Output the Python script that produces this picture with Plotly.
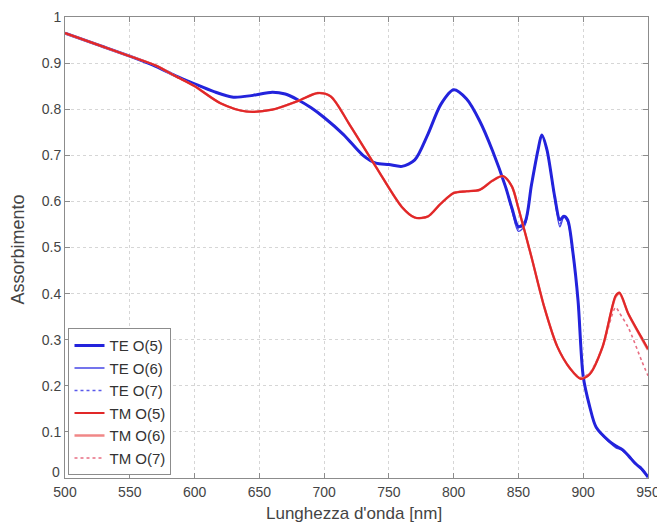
import plotly.graph_objects as go

# ---- data ----
te_wl = [500, 525, 550, 570, 585, 600, 615, 630, 645, 660, 670, 680, 690, 700, 715,
         730, 740, 750, 760, 770, 780, 790, 800, 810, 820, 830, 840, 845, 850, 855,
         860, 865, 868, 872, 878, 882, 885, 888, 892, 896, 900, 905, 910, 920, 925,
         930, 935, 940, 945, 950]
te_o5 = [0.965, 0.940, 0.915, 0.893, 0.873, 0.855, 0.838, 0.826, 0.830, 0.837, 0.833,
         0.820, 0.803, 0.782, 0.745, 0.700, 0.683, 0.680, 0.676, 0.690, 0.745, 0.810,
         0.842, 0.822, 0.775, 0.710, 0.632, 0.585, 0.545, 0.555, 0.635, 0.710, 0.744,
         0.712, 0.610, 0.560, 0.568, 0.560, 0.490, 0.385, 0.220, 0.155, 0.110, 0.080,
         0.070, 0.062, 0.048, 0.032, 0.020, 0.002]
te_o6 = [0.965, 0.940, 0.915, 0.893, 0.873, 0.855, 0.838, 0.826, 0.830, 0.837, 0.833,
         0.820, 0.803, 0.782, 0.745, 0.700, 0.683, 0.680, 0.676, 0.690, 0.745, 0.810,
         0.842, 0.822, 0.775, 0.710, 0.632, 0.580, 0.535, 0.548, 0.635, 0.710, 0.744,
         0.712, 0.605, 0.545, 0.566, 0.555, 0.490, 0.385, 0.220, 0.155, 0.110, 0.078,
         0.066, 0.060, 0.048, 0.034, 0.018, 0.002]
te_o7 = [0.965, 0.940, 0.915, 0.893, 0.873, 0.855, 0.838, 0.826, 0.830, 0.837, 0.833,
         0.820, 0.803, 0.782, 0.745, 0.700, 0.683, 0.680, 0.676, 0.690, 0.745, 0.810,
         0.842, 0.822, 0.775, 0.710, 0.632, 0.582, 0.540, 0.552, 0.635, 0.710, 0.744,
         0.712, 0.608, 0.552, 0.567, 0.558, 0.490, 0.385, 0.220, 0.155, 0.110, 0.079,
         0.068, 0.061, 0.048, 0.033, 0.022, 0.002]

tm_wl = [500, 525, 550, 570, 585, 600, 620, 640, 660, 680, 695, 705, 720, 740, 760,
         770, 780, 790, 800, 810, 820, 830, 838, 845, 850, 860, 870, 880, 890, 898,
         905, 915, 925, 928, 935, 945, 950]
tm_o5 = [0.965, 0.940, 0.915, 0.895, 0.872, 0.850, 0.813, 0.795, 0.799, 0.818, 0.835,
         0.828, 0.765, 0.675, 0.588, 0.565, 0.567, 0.595, 0.618, 0.622, 0.625, 0.645,
         0.655, 0.632, 0.585, 0.480, 0.370, 0.285, 0.237, 0.215, 0.225, 0.285, 0.395,
         0.402, 0.355, 0.305, 0.280]
tm_o6 = [0.965, 0.940, 0.915, 0.895, 0.872, 0.850, 0.813, 0.795, 0.799, 0.818, 0.835,
         0.828, 0.765, 0.675, 0.588, 0.565, 0.567, 0.595, 0.618, 0.622, 0.625, 0.645,
         0.655, 0.632, 0.585, 0.480, 0.370, 0.285, 0.237, 0.216, 0.226, 0.285, 0.393,
         0.400, 0.355, 0.303, 0.278]
tm_o7 = [0.965, 0.940, 0.915, 0.895, 0.872, 0.850, 0.813, 0.795, 0.799, 0.818, 0.835,
         0.828, 0.765, 0.675, 0.588, 0.565, 0.567, 0.595, 0.618, 0.622, 0.625, 0.645,
         0.655, 0.632, 0.585, 0.480, 0.370, 0.285, 0.237, 0.218, 0.228, 0.285, 0.370,
         0.358, 0.325, 0.255, 0.222]

x_ticks = [500, 550, 600, 650, 700, 750, 800, 850, 900, 950]
y_ticks = [0, 0.1, 0.2, 0.3, 0.4, 0.5, 0.6, 0.7, 0.8, 0.9, 1]
y_tick_text = ["0", "0.1", "0.2", "0.3", "0.4", "0.5", "0.6", "0.7", "0.8", "0.9", "1"]
x_title = "Lunghezza d'onda [nm]"
y_title = "Assorbimento"

# (name, x, y, colour, width, dash, legend rank) -- listed in drawing order
series = [
    ("TE O(7)", te_wl, te_o7, "rgb(90,90,235)", 1.6, "dot", 3),
    ("TE O(6)", te_wl, te_o6, "rgb(70,70,230)", 1.4, "solid", 2),
    ("TE O(5)", te_wl, te_o5, "rgb(35,35,220)", 3.0, "solid", 1),
    ("TM O(7)", tm_wl, tm_o7, "rgb(232,110,130)", 1.6, "dot", 6),
    ("TM O(6)", tm_wl, tm_o6, "rgb(240,135,135)", 2.4, "solid", 5),
    ("TM O(5)", tm_wl, tm_o5, "rgb(225,40,40)", 2.2, "solid", 4),
]

fig = go.Figure()
for name, xs, ys, col, w, dash, rank in series:
    fig.add_trace(go.Scatter(x=xs, y=ys, mode="lines", name=name, legendrank=rank,
                             line=dict(color=col, width=w, dash=dash,
                                       shape="spline", smoothing=0.8)))

font_family = "Liberation Sans, Arial, sans-serif"
axis_common = dict(showline=True, linecolor="#8c8c8c", linewidth=1, mirror="ticks",
                   ticks="inside", ticklen=5, tickcolor="#8c8c8c", automargin=False,
                   showgrid=True, gridcolor="#d6d6d6", griddash="dot", gridwidth=1,
                   zeroline=False, tickfont=dict(size=14, color="#444444"))

# the lowest y label sits a little above its tick (as in the reference), so it is
# drawn as an annotation; the remaining labels come from the axis
axis_y_text = [""] + y_tick_text[1:]

# the page body adds an 8 px offset, so the figure is sized/margined to compensate
fig.update_layout(
    width=657, height=516,
    margin=dict(l=57, r=17, t=9, b=46),
    paper_bgcolor="white", plot_bgcolor="white",
    font=dict(family=font_family, color="#444444"),
    showlegend=True,
    legend=dict(x=0.006, y=0.006, xanchor="left", yanchor="bottom",
                bgcolor="white", bordercolor="#8c8c8c", borderwidth=1,
                font=dict(size=15, color="#333333"), tracegroupgap=0),
    annotations=[
        dict(text=x_title, xref="paper", yref="paper", x=0.495, y=-0.077,
             xanchor="center", yanchor="middle", showarrow=False,
             font=dict(size=17, color="#444444")),
        dict(text=y_title, xref="paper", yref="paper", x=-0.081, y=0.495,
             xanchor="center", yanchor="middle", showarrow=False, textangle=-90,
             font=dict(size=18, color="#444444")),
        dict(text=y_tick_text[0], xref="paper", yref="y", x=0, y=y_ticks[0],
             xanchor="right", yanchor="middle", xshift=-3, yshift=6, showarrow=False,
             font=dict(size=14, color="#444444")),
    ],
)
fig.update_xaxes(range=[500, 950], tickvals=x_ticks, ticklabelstandoff=1, **axis_common)
fig.update_yaxes(range=[0, 1], tickvals=y_ticks, ticktext=axis_y_text, **axis_common)

fig.write_html("out.html")
